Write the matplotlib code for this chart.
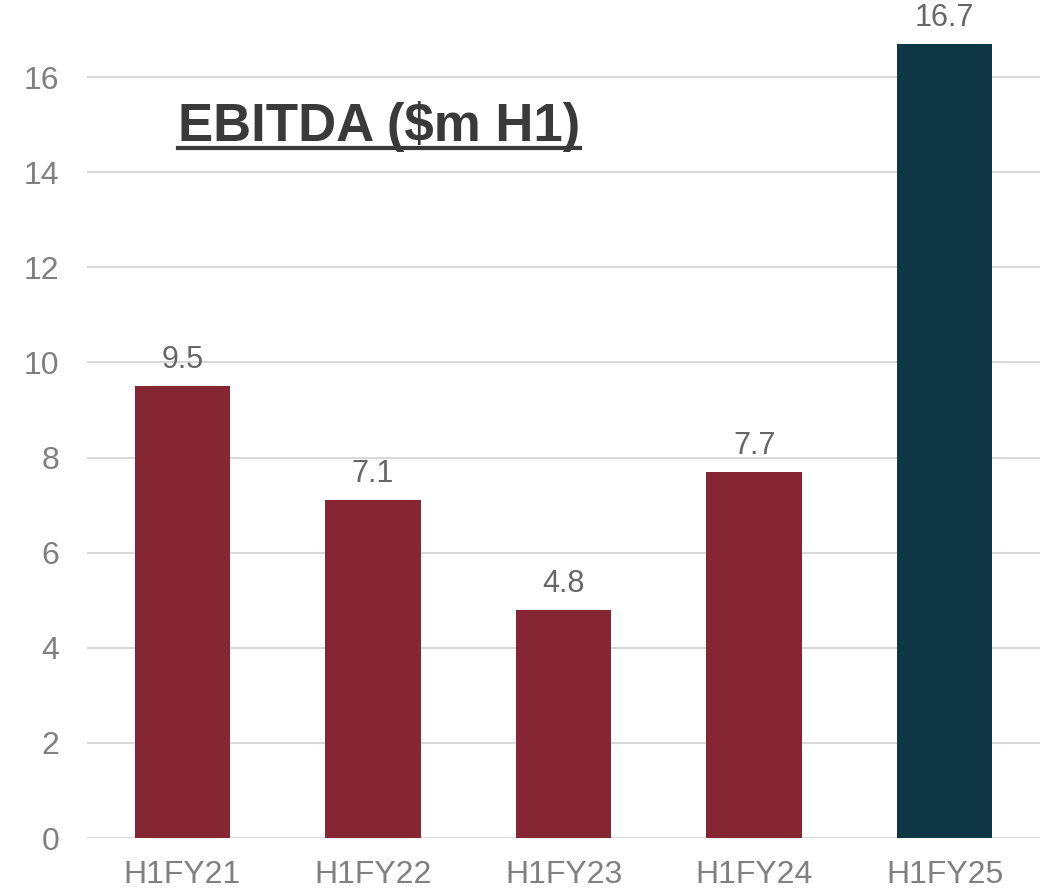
import numpy as np
import matplotlib.pyplot as plt
from matplotlib.lines import Line2D

plt.rcParams["font.family"] = ["Liberation Sans", "DejaVu Sans"]

# data
periods = ["H1FY21", "H1FY22", "H1FY23", "H1FY24", "H1FY25"]
ebitda = [9.5, 7.1, 4.8, 7.7, 16.7]
bar_colors = ["#852632", "#852632", "#852632", "#852632", "#0F3644"]

fig = plt.figure(figsize=(10.54, 8.9), dpi=100)
ax = fig.add_axes([87 / 1054, 52 / 890, (1040 - 87) / 1054, 838 / 890])

x = np.arange(len(periods))
bars = ax.bar(x, ebitda, width=0.5, color=bar_colors, zorder=3)

for xi, v in zip(x, ebitda):
    ax.annotate(f"{v:.1f}", (xi, v), xytext=(0, 8), textcoords="offset points",
                ha="center", va="bottom", fontsize=22, color="#666666")

ax.set_xlim(-0.5, 4.5)
ax.set_ylim(0, 17.62)
ax.set_yticks(np.arange(0, 17, 2))
ax.set_xticks(x)
ax.set_xticklabels(periods)
ax.tick_params(axis="both", length=0, labelsize=23, labelcolor="#808080")
ax.tick_params(axis="y", pad=20)
ax.tick_params(axis="x", pad=16)
ax.yaxis.grid(True, color="#d9d9d9", linewidth=1.5, zorder=0)
for s in ax.spines.values():
    s.set_visible(False)

# underlined title
title = fig.text(178 / 1054, 1 - 141 / 890, "EBITDA ($m H1)", fontsize=38,
                 fontweight="bold", color="#3a3a3a", ha="left", va="baseline")
fig.canvas.draw()
bb = title.get_window_extent()
uy = 1 - 148 / 890
fig.add_artist(Line2D([bb.x0 / 1054, bb.x1 / 1054], [uy, uy], color="#3a3a3a",
                      linewidth=3, transform=fig.transFigure))

fig.savefig("out.png", dpi=100)
